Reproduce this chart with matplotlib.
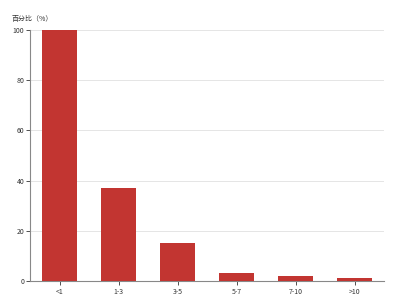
import matplotlib
matplotlib.use("Agg")
import matplotlib.pyplot as plt

plt.rcParams['font.family'] = ['Noto Sans CJK SC', 'DejaVu Sans']

categories = ['<1', '1-3', '3-5', '5-7', '7-10', '>10']
values = [100, 37, 15, 3, 2, 1]
yticks = [0, 20, 40, 60, 80, 100]

fig = plt.figure(figsize=(4, 3), dpi=100)
ax = fig.add_axes([0.075, 0.0633, 0.885, 0.8367])

x = range(len(categories))
ax.bar(x, values, width=0.6, color='#c23531', zorder=3)

ax.set_xlim(-0.5, len(categories) - 0.5)
ax.set_ylim(0, 100)
ax.set_xticks(list(x))
ax.set_xticklabels(categories)
ax.set_yticks(yticks)
ax.tick_params(axis='both', labelsize=5, colors='#333333', length=3, width=0.6)
ax.tick_params(axis='x', pad=2)
ax.tick_params(axis='y', pad=1)
ax.grid(axis='y', color='#e0e0e0', linewidth=0.6, zorder=0)

for s in ['top', 'right']:
    ax.spines[s].set_visible(False)
ax.spines['left'].set_color('#888888')
ax.spines['bottom'].set_color('#888888')
ax.spines['left'].set_linewidth(0.8)
ax.spines['bottom'].set_linewidth(0.8)

fig.text(0.03, 0.935, '百分比（%）', fontsize=5, color='#333333', va='center')

fig.savefig('out.png', dpi=100)
